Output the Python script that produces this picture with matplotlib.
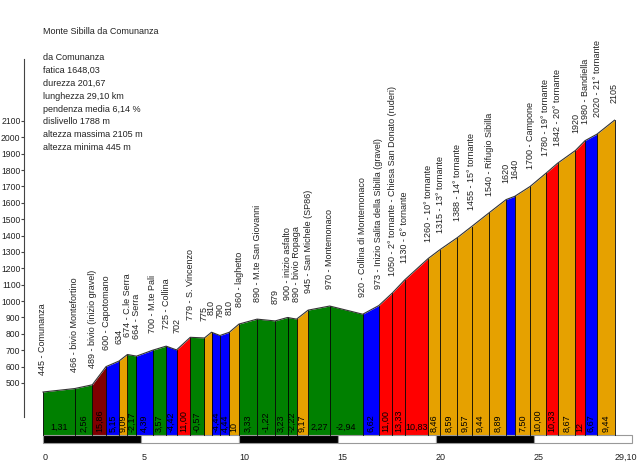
import matplotlib
matplotlib.use("Agg")
import matplotlib.pyplot as plt

plt.rcParams['font.family'] = ['Liberation Sans', 'DejaVu Sans']

# profile points: km and elevation
km = [0, 1.61, 2.51, 3.21, 3.87, 4.30, 4.76, 5.58, 6.27, 6.80, 7.50, 8.22, 8.58, 9.01,
      9.49, 9.98, 10.90, 11.82, 12.45, 12.91, 13.50, 14.60, 16.28, 17.10, 17.79, 18.42,
      19.61, 20.22, 21.10, 21.82, 22.72, 23.58, 24.02, 24.80, 25.60, 26.20, 27.11, 27.60,
      28.21, 29.10]
elev = [445, 466, 489, 600, 634, 674, 664, 700, 725, 702, 779, 775, 810, 790, 810, 860,
        890, 879, 900, 890, 945, 970, 920, 973, 1050, 1130, 1260, 1315, 1388, 1455, 1540,
        1620, 1640, 1700, 1780, 1842, 1920, 1980, 2020, 2105]
names = ["Comunanza", "bivio Montefortino", "bivio (inizio gravel)", "Capotomano", "",
         "C.le Serra", "Serra", "M.te Pali", "Collina", "", "S. Vincenzo", "", "", "", "",
         "laghetto", "M.te San Giovanni", "", "inizio asfalto", "bivio Ropaga",
         "San Michele (SP86)", "Montemonaco", "Collina di Montemonaco",
         "Inizio Salita della Sibilla (gravel)",
         "2° tornante - Chiesa San Donato (ruderi)", "6° tornante", "10° tornante",
         "13° tornante", "14° tornante", "15° tornante", "Rifugio Sibilla", "", "",
         "Campone", "19° tornante", "20° tornante", "", "Bandiella", "21° tornante", ""]

# one entry per segment
grad = ["1,31", "2,56", "15,86", "5,15", "9,09", "-2,17", "4,39", "3,57", "-4,42", "11,00",
        "-0,57", "", "-4,44", "4,44", "10", "3,33", "-1,22", "3,23", "-2,22", "9,17", "2,27",
        "-2,94", "6,62", "11,00", "13,33", "10,83", "8,46", "8,59", "9,57", "9,44", "8,89",
        "", "7,50", "10,00", "10,33", "8,67", "12", "6,67", "9,44"]
cls = ["g", "g", "dr", "b", "o", "g", "b", "g", "b", "r", "g", "o", "b", "b", "o", "g", "g",
       "g", "g", "o", "g", "g", "b", "r", "r", "r", "o", "o", "o", "o", "o", "b", "o", "o",
       "r", "o", "r", "b", "o"]
colors = {"g": "#008000", "b": "#0000FF", "r": "#FF0000", "dr": "#800000", "o": "#E6A100"}

info = ["da Comunanza", "fatica 1648,03", "durezza 201,67", "lunghezza 29,10 km",
        "pendenza media 6,14 %", "dislivello 1788 m", "altezza massima 2105 m",
        "altezza minima 445 m"]

xtick_pos = [0, 5, 10, 15, 20, 25, 29.10]
xtick_lab = ["0", "5", "10", "15", "20", "25", "29,10"]

base = 182
txtc = "#222222"
fs = 6.5

fig = plt.figure(figsize=(6.4, 4.69), dpi=100)
ax = fig.add_axes([0, 0, 1, 1])
ax.set_xlim(-2.189, 30.397)
ax.set_ylim(-25.2, 2838.9)

# filled segments
for i in range(len(grad)):
    x0, x1 = km[i], km[i + 1]
    e0, e1 = elev[i], elev[i + 1]
    ax.fill_between([x0, x1], [base, base], [e0, e1], color=colors[cls[i]], lw=0)
    ax.plot([x0, x0], [base, e0], color="black", lw=0.6)
    w = x1 - x0
    xm = (x0 + x1) / 2
    if w >= 1.0:
        ax.text(xm, 200, grad[i], fontsize=fs, ha="center", va="bottom", color="black")
    elif grad[i]:
        ax.text(xm, 200, grad[i], fontsize=fs, ha="center", va="bottom",
                rotation=90, color="black")
ax.plot([km[-1], km[-1]], [base, elev[-1]], color="black", lw=0.6)
ax.plot(km, elev, color="#333333", lw=0.8)

# point labels
for x, e, n in zip(km, elev, names):
    s = "%d - %s" % (e, n) if n else "%d" % e
    ax.text(x, e + 104, s, rotation=90, ha="center", va="bottom", fontsize=fs, color=txtc)

# distance bar
starts = [0, 5, 10, 15, 20, 25]
fills = ["black", "white", "black", "white", "black", "white"]
ax.bar(starts, [48.8] * 6, width=5, bottom=133.6, align="edge", color=fills,
       edgecolor="#999999", lw=0.8)
for p, l in zip(xtick_pos, xtick_lab):
    ax.text(p, 48, l, ha="left", va="center", fontsize=fs, color=txtc)

# y axis
for s in ["top", "right", "bottom"]:
    ax.spines[s].set_visible(False)
ax.spines["left"].set_position(("data", -0.967))
ax.spines["left"].set_bounds(292, 2478)
ax.spines["left"].set_color("#444444")
ax.set_xticks([])
ax.set_yticks(range(500, 2101, 100))
ax.tick_params(axis="y", labelsize=6.2, length=2, pad=0.5, colors="#444444",
               labelcolor=txtc)

fig.text(43 / 640, 1 - 32 / 469, "Monte Sibilla da Comunanza", fontsize=fs,
         va="center", color=txtc)
for j, t in enumerate(info):
    fig.text(43 / 640, 1 - (58 + j * 12.8) / 469, t, fontsize=fs, va="center", color=txtc)

fig.savefig("out.png", dpi=100)
